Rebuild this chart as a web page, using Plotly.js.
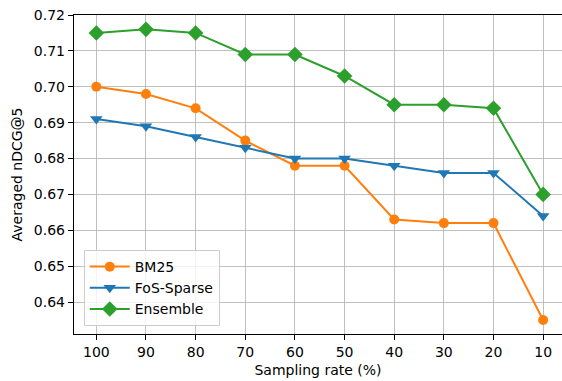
<!DOCTYPE html>
<html>
<head>
<meta charset="utf-8">
<script src="https://cdn.plot.ly/plotly-3.0.1.min.js"></script>
<style>html,body{margin:0;padding:0;background:#fff;}#chart{width:562px;height:381px;}</style>
</head>
<body>
<div id="chart"></div>
<script>
const samplingRates = ["100", "90", "80", "70", "60", "50", "40", "30", "20", "10"];
const bm25 = [0.700, 0.698, 0.694, 0.685, 0.678, 0.678, 0.663, 0.662, 0.662, 0.635];
const fosSparse = [0.691, 0.689, 0.686, 0.683, 0.680, 0.680, 0.678, 0.676, 0.676, 0.664];
const ensemble = [0.715, 0.716, 0.715, 0.709, 0.709, 0.703, 0.695, 0.695, 0.694, 0.670];
const yTicks = [0.64, 0.65, 0.66, 0.67, 0.68, 0.69, 0.70, 0.71, 0.72];

const xIdx = samplingRates.map((_, i) => i);
function trace(name, y, color, symbol, size) {
  return {
    x: xIdx, y: y, name: name, type: 'scatter', mode: 'lines+markers',
    line: {color: color, width: 2},
    marker: {color: color, symbol: symbol, size: size}
  };
}
const data = [
  trace('BM25', bm25, '#ff7f0e', 'circle', 10),
  trace('FoS-Sparse', fosSparse, '#1f77b4', 'triangle-down', 11),
  trace('Ensemble', ensemble, '#2ca02c', 'diamond', 12)
];
const font = {family: 'DejaVu Sans, sans-serif', size: 14, color: '#000'};
const layout = {
  width: 562, height: 381,
  margin: {l: 74, r: 0, t: 15, b: 47},
  paper_bgcolor: '#fff', plot_bgcolor: '#fff',
  font: font,
  showlegend: true,
  legend: {
    x: 0.02, y: 0.025, xanchor: 'left', yanchor: 'bottom',
    bgcolor: 'rgba(255,255,255,0.8)', bordercolor: '#cccccc', borderwidth: 1,
    font: {family: 'DejaVu Sans, sans-serif', size: 14, color: '#000'},
    itemwidth: 40, tracegroupgap: 0
  },
  xaxis: {
    tickmode: 'array', tickvals: xIdx, ticktext: samplingRates,
    range: [-0.45, 9.38],
    showgrid: true, gridcolor: '#b0b0b0', gridwidth: 0.8,
    showline: true, linecolor: '#000', linewidth: 1.2, mirror: true,
    ticks: 'outside', ticklen: 5, tickcolor: '#000', tickwidth: 1,
    zeroline: false,
    title: {text: 'Sampling rate (%)', font: font, standoff: 6}
  },
  yaxis: {
    tickmode: 'array', tickvals: yTicks, ticktext: yTicks.map(v => v.toFixed(2)),
    range: [0.6311, 0.72],
    showgrid: true, gridcolor: '#b0b0b0', gridwidth: 0.8,
    showline: true, linecolor: '#000', linewidth: 1.2,
    ticks: 'outside', ticklen: 5, tickcolor: '#000', tickwidth: 1,
    zeroline: false,
    title: {text: 'Averaged nDCG@5', font: font, standoff: 8}
  }
};
Plotly.newPlot('chart', data, layout, {displayModeBar: false, staticPlot: true});
</script>
</body>
</html>
